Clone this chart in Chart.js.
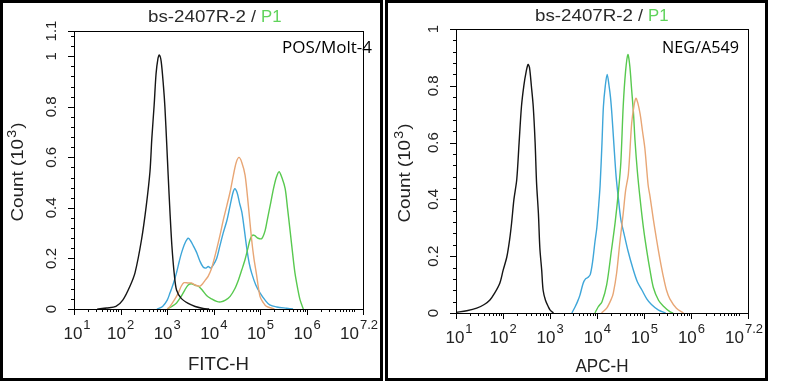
<!DOCTYPE html>
<html>
<head>
<meta charset="utf-8">
<script src="https://cdn.jsdelivr.net/npm/chart.js@4.4.1/dist/chart.umd.min.js"></script>
<style>
  html, body { margin: 0; padding: 0; background: #fff; }
  #wrap { position: relative; width: 788px; height: 381px; overflow: hidden; }
  canvas { position: absolute; top: 0; }
  .frame { position: absolute; top: 0; height: 381px; width: 383px; border: 3px solid #000; box-sizing: border-box; pointer-events: none; }
</style>
</head>
<body>
<div id="wrap">
  <canvas id="c1" width="383" height="381" style="left:0px"></canvas>
  <canvas id="c2" width="383" height="381" style="left:385px"></canvas>
  <div class="frame" style="left:0px"></div>
  <div class="frame" style="left:385px"></div>
</div>
<script>
// ---------- tick labels ----------
const X_TICK_EXPS = [1, 2, 3, 4, 5, 6, 7.2];
const X_TICK_SUPS = ['1', '2', '3', '4', '5', '6', '7.2'];
const LEFT_Y_TICKS = [0, 0.2, 0.4, 0.6, 0.8, 1, 1.1];
const LEFT_Y_LABELS = ['0', '0.2', '0.4', '0.6', '0.8', '1', '1.1'];
const RIGHT_Y_TICKS = [0, 0.2, 0.4, 0.6, 0.8, 1];
const RIGHT_Y_LABELS = ['0', '0.2', '0.4', '0.6', '0.8', '1'];

// ---------- left panel (POS/Molt-4), x = log10(FITC-H), y = count (10^3) ----------
const posBlackX = [1.5, 1.7, 1.9, 2.05, 2.2, 2.31, 2.45, 2.55, 2.63, 2.67, 2.72, 2.76, 2.80, 2.83, 2.87, 2.92, 2.95, 2.99, 3.02, 3.06, 3.1, 3.15, 3.2, 3.3, 3.45, 3.6, 3.77, 3.9];
const posBlackY = [0, 0.004, 0.01, 0.036, 0.09, 0.144, 0.276, 0.408, 0.544, 0.676, 0.808, 0.93, 0.99, 1.005, 0.98, 0.88, 0.80, 0.65, 0.53, 0.38, 0.25, 0.14, 0.075, 0.042, 0.022, 0.01, 0.002, 0];

const posBlueX = [2.78, 2.9, 3.0, 3.06, 3.13, 3.2, 3.26, 3.31, 3.38, 3.45, 3.5, 3.56, 3.63, 3.7, 3.77, 3.83, 3.88, 3.93, 3.99, 4.06, 4.13, 4.2, 4.28, 4.35, 4.41, 4.45, 4.5, 4.55, 4.6, 4.65, 4.71, 4.76, 4.81, 4.9, 4.99, 5.1, 5.2, 5.35, 5.56, 5.7];
const posBlueY = [0, 0.01, 0.035, 0.064, 0.1, 0.144, 0.19, 0.224, 0.26, 0.28, 0.27, 0.25, 0.224, 0.19, 0.166, 0.162, 0.168, 0.162, 0.175, 0.2, 0.25, 0.3, 0.35, 0.41, 0.46, 0.476, 0.46, 0.42, 0.384, 0.32, 0.236, 0.18, 0.143, 0.095, 0.064, 0.035, 0.016, 0.008, 0.003, 0];

const posOrangeX = [3.0, 3.06, 3.15, 3.24, 3.3, 3.36, 3.45, 3.52, 3.6, 3.7, 3.76, 3.82, 3.88, 3.95, 4.06, 4.13, 4.2, 4.28, 4.35, 4.42, 4.48, 4.54, 4.6, 4.67, 4.74, 4.81, 4.86, 4.91, 4.99, 5.06, 5.13, 5.3];
const posOrangeY = [0, 0.01, 0.035, 0.064, 0.09, 0.104, 0.103, 0.103, 0.095, 0.09, 0.1, 0.115, 0.13, 0.16, 0.236, 0.29, 0.35, 0.41, 0.464, 0.53, 0.58, 0.6, 0.58, 0.53, 0.41, 0.276, 0.2, 0.143, 0.05, 0.025, 0.01, 0];

const posGreenX = [3.0, 3.1, 3.2, 3.3, 3.38, 3.45, 3.52, 3.6, 3.67, 3.75, 3.85, 3.95, 4.06, 4.15, 4.25, 4.35, 4.45, 4.53, 4.6, 4.67, 4.73, 4.78, 4.83, 4.88, 4.95, 5.03, 5.1, 5.15, 5.22, 5.28, 5.34, 5.40, 5.46, 5.53, 5.58, 5.64, 5.69, 5.74, 5.8, 5.85, 5.92];
const posGreenY = [0, 0.01, 0.024, 0.05, 0.076, 0.095, 0.1, 0.094, 0.09, 0.075, 0.052, 0.04, 0.03, 0.028, 0.035, 0.05, 0.08, 0.116, 0.155, 0.196, 0.24, 0.276, 0.292, 0.29, 0.28, 0.279, 0.31, 0.356, 0.42, 0.476, 0.52, 0.543, 0.52, 0.476, 0.4, 0.303, 0.22, 0.143, 0.08, 0.036, 0];

// ---------- right panel (NEG/A549), x = log10(APC-H), y = count (10^3) ----------
const negBlackX = [1.0, 1.23, 1.44, 1.6, 1.72, 1.82, 1.93, 2.0, 2.08, 2.14, 2.18, 2.23, 2.29, 2.34, 2.39, 2.44, 2.49, 2.53, 2.56, 2.6, 2.64, 2.68, 2.71, 2.75, 2.78, 2.82, 2.85, 2.9, 2.96, 3.0, 3.07];
const negBlackY = [0.002, 0.008, 0.017, 0.03, 0.046, 0.07, 0.105, 0.15, 0.198, 0.26, 0.316, 0.4, 0.47, 0.6, 0.727, 0.8, 0.85, 0.875, 0.865, 0.8, 0.727, 0.6, 0.46, 0.35, 0.23, 0.15, 0.08, 0.045, 0.022, 0.01, 0];

const negBlueX = [3.46, 3.53, 3.58, 3.63, 3.7, 3.75, 3.8, 3.85, 3.9, 3.95, 3.99, 4.03, 4.06, 4.1, 4.13, 4.17, 4.21, 4.25, 4.28, 4.31, 4.35, 4.4, 4.45, 4.5, 4.58, 4.65, 4.75, 4.85, 4.95, 5.05, 5.15, 5.3, 5.45];
const negBlueY = [0, 0.022, 0.04, 0.062, 0.105, 0.12, 0.125, 0.135, 0.18, 0.25, 0.3, 0.38, 0.45, 0.6, 0.727, 0.8, 0.84, 0.8, 0.76, 0.7, 0.6, 0.48, 0.4, 0.33, 0.27, 0.22, 0.16, 0.11, 0.08, 0.05, 0.03, 0.01, 0];

const negGreenX = [3.95, 4.02, 4.1, 4.2, 4.3, 4.38, 4.45, 4.5, 4.55, 4.6, 4.65, 4.69, 4.73, 4.77, 4.8, 4.85, 4.91, 4.98, 5.05, 5.12, 5.19, 5.3, 5.4, 5.54, 5.61];
const negGreenY = [0, 0.022, 0.04, 0.1, 0.22, 0.32, 0.43, 0.53, 0.727, 0.85, 0.91, 0.87, 0.785, 0.7, 0.609, 0.5, 0.4, 0.3, 0.22, 0.15, 0.09, 0.045, 0.025, 0.005, 0];

const negOrangeX = [4.09, 4.2, 4.3, 4.34, 4.41, 4.48, 4.55, 4.6, 4.66, 4.73, 4.78, 4.82, 4.86, 4.91, 4.96, 5.01, 5.08, 5.12, 5.19, 5.26, 5.33, 5.4, 5.47, 5.54, 5.68, 5.83];
const negOrangeY = [0, 0.017, 0.05, 0.07, 0.14, 0.25, 0.35, 0.43, 0.49, 0.668, 0.73, 0.756, 0.74, 0.7, 0.64, 0.58, 0.45, 0.41, 0.33, 0.257, 0.19, 0.13, 0.08, 0.05, 0.017, 0];

const COLORS = { black: '#151515', blue: '#3ea6d9', orange: '#e8a675', green: '#58c94f' };
const FONT = "'Liberation Sans', Arial, sans-serif";

function pts(xs, ys) { return xs.map((v, i) => ({ x: v, y: ys[i] })); }
function ds(xs, ys, color) {
  return { data: pts(xs, ys), borderColor: color, borderWidth: 1.4, pointRadius: 0, tension: 0.3, fill: false };
}

// draw left-aligned text squeezed/stretched horizontally to a target width
function fitText(ctx, text, x, y, targetW) {
  const w = ctx.measureText(text).width;
  const s = targetW / w;
  ctx.save();
  ctx.translate(x, y);
  ctx.scale(s, 1);
  ctx.textAlign = 'left';
  ctx.fillText(text, 0, 0);
  ctx.restore();
}

function drawSup(ctx, base, sup, cx, baseY, baseSize, supSize, supRise, shift) {
  ctx.font = baseSize + 'px ' + FONT;
  const wb = ctx.measureText(base).width;
  ctx.font = supSize + 'px ' + FONT;
  const ws = ctx.measureText(sup).width;
  const total = wb + 1 + ws;
  const x0 = cx - total / 2 + (shift || 0);
  ctx.textAlign = 'left';
  ctx.textBaseline = 'alphabetic';
  ctx.font = baseSize + 'px ' + FONT;
  ctx.fillText(base, x0, baseY);
  ctx.font = supSize + 'px ' + FONT;
  ctx.fillText(sup, x0 + wb + 1, baseY - supRise);
}

function axesPlugin(cfg) {
  return {
    id: 'flowAxes',
    afterDatasetsDraw(chart) {
      const { ctx, chartArea: a, scales: { x, y } } = chart;
      ctx.save();
      ctx.strokeStyle = '#000';
      ctx.fillStyle = '#000';
      ctx.lineWidth = 1;
      // plot frame
      ctx.strokeRect(a.left + 0.5, a.top + 0.5, a.right - a.left, a.bottom - a.top);
      // x ticks
      ctx.beginPath();
      for (let d = 1; d <= 7; d++) {
        for (let k = 1; k <= 9; k++) {
          const v = d + Math.log10(k);
          if (v > 7.2 + 1e-9) continue;
          const major = (k === 1 && d <= 6);
          const px = Math.round(x.getPixelForValue(v)) + 0.5;
          ctx.moveTo(px, a.bottom);
          ctx.lineTo(px, a.bottom + (major ? 6 : 3));
        }
      }
      const pEnd = Math.round(x.getPixelForValue(7.2)) + 0.5;
      ctx.moveTo(pEnd, a.bottom); ctx.lineTo(pEnd, a.bottom + 6);
      // y ticks
      for (let v = 0; v <= cfg.yMax + 1e-9; v += 0.04) {
        const py = Math.round(y.getPixelForValue(v)) + 0.5;
        ctx.moveTo(a.left, py); ctx.lineTo(a.left - 3, py);
      }
      cfg.yTicks.forEach(v => {
        const py = Math.round(y.getPixelForValue(v)) + 0.5;
        ctx.moveTo(a.left, py); ctx.lineTo(a.left - 6, py);
      });
      ctx.stroke();

      ctx.fillStyle = '#222';
      // x tick labels
      X_TICK_EXPS.forEach((v, i) => {
        const px = x.getPixelForValue(v);
        let shift = 0;
        if (i === 0) shift = 3;
        if (i === X_TICK_EXPS.length - 1) shift = -4;
        drawSup(ctx, '10', X_TICK_SUPS[i], px, a.bottom + 30, 17, 13, 10, shift);
      });
      // y tick labels (rotated)
      ctx.font = '15px ' + FONT;
      ctx.textAlign = 'center';
      ctx.textBaseline = 'alphabetic';
      cfg.yTicks.forEach((v, i) => {
        const py = y.getPixelForValue(v);
        ctx.save();
        ctx.translate(a.left - 18, py);
        ctx.rotate(-Math.PI / 2);
        ctx.fillText(cfg.yLabels[i], 0, 0);
        ctx.restore();
      });
      // y axis title  (target length ~99 px)
      ctx.save();
      ctx.translate(cfg.yTitleX, (a.top + a.bottom) / 2 + 2);
      ctx.rotate(-Math.PI / 2);
      ctx.font = '17px ' + FONT;
      const t1 = 'Count (10';
      const w1 = ctx.measureText(t1).width;
      ctx.font = '13px ' + FONT;
      const w2 = ctx.measureText('3').width;
      ctx.font = '17px ' + FONT;
      const w3 = ctx.measureText(')').width;
      const nat = w1 + w2 + 2 + w3;
      const sc = 99 / nat;
      ctx.scale(sc, 1);
      let sx = -nat / 2;
      ctx.textAlign = 'left';
      ctx.fillText(t1, sx, 0);
      ctx.font = '13px ' + FONT;
      ctx.fillText('3', sx + w1 + 1, -7);
      ctx.font = '17px ' + FONT;
      ctx.fillText(')', sx + w1 + w2 + 2, 0);
      ctx.restore();
      // x axis title
      ctx.font = '18px ' + FONT;
      ctx.textAlign = 'left';
      fitText(ctx, cfg.xTitle, (a.left + a.right) / 2 - cfg.xTitleW / 2, cfg.xTitleY, cfg.xTitleW);
      // panel title
      ctx.font = '17px ' + FONT;
      ctx.fillStyle = '#2a2a2a';
      fitText(ctx, 'bs-2407R-2', cfg.titleX, cfg.titleY, 98);
      fitText(ctx, '/', cfg.titleX + 103, cfg.titleY, 5);
      ctx.fillStyle = '#5fd35a';
      fitText(ctx, 'P1', cfg.titleX + 113, cfg.titleY, 20.5);
      // annotation
      ctx.fillStyle = '#000';
      ctx.font = "500 16px 'Open Sans', 'Noto Sans', sans-serif";
      fitText(ctx, cfg.note, cfg.noteX, cfg.noteY, cfg.noteW);
      ctx.restore();
    }
  };
}

function makeChart(id, datasets, pad, cfg) {
  return new Chart(document.getElementById(id), {
    type: 'line',
    data: { datasets },
    options: {
      responsive: false,
      animation: false,
      events: [],
      layout: { padding: pad },
      plugins: { legend: { display: false }, tooltip: { enabled: false }, title: { display: false } },
      scales: {
        x: { type: 'linear', min: 1, max: 7.2, display: false },
        y: { type: 'linear', min: 0, max: cfg.yMax, display: false }
      }
    },
    plugins: [axesPlugin(cfg)]
  });
}

makeChart('c1', [
  ds(posBlackX, posBlackY, COLORS.black),
  ds(posOrangeX, posOrangeY, COLORS.orange),
  ds(posGreenX, posGreenY, COLORS.green),
  ds(posBlueX, posBlueY, COLORS.blue)
], { left: 74, top: 31, right: 20, bottom: 72 }, {
  yMax: 1.1, yTicks: LEFT_Y_TICKS, yLabels: LEFT_Y_LABELS,
  xTitle: 'FITC-H', xTitleW: 61, xTitleY: 370, yTitleX: 23,
  titleX: 148, titleY: 22, note: 'POS/Molt-4', noteX: 282, noteY: 53, noteW: 90
});

makeChart('c2', [
  ds(negBlackX, negBlackY, COLORS.black),
  ds(negOrangeX, negOrangeY, COLORS.orange),
  ds(negGreenX, negGreenY, COLORS.green),
  ds(negBlueX, negBlueY, COLORS.blue)
], { left: 71, top: 29, right: 20, bottom: 68 }, {
  yMax: 1, yTicks: RIGHT_Y_TICKS, yLabels: RIGHT_Y_LABELS,
  xTitle: 'APC-H', xTitleW: 53, xTitleY: 372, yTitleX: 25,
  titleX: 150, titleY: 21, note: 'NEG/A549', noteX: 277, noteY: 53, noteW: 77
});
</script>
</body>
</html>
